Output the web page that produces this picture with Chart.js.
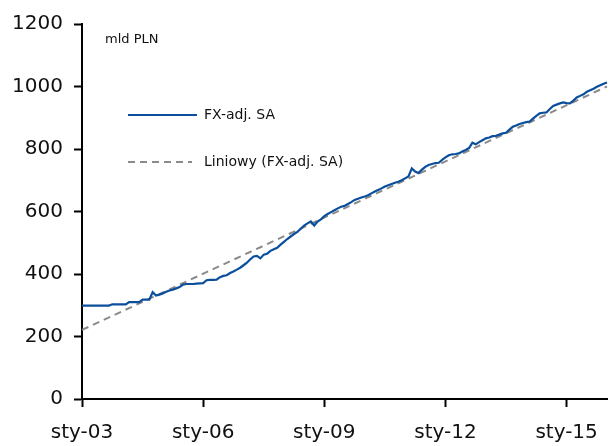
<!DOCTYPE html>
<html>
<head>
<meta charset="utf-8">
<script src="https://cdn.jsdelivr.net/npm/chart.js@4"></script>
<style>
  html, body { margin: 0; padding: 0; background: #fff; }
  #wrap { width: 610px; height: 446px; }
</style>
</head>
<body>
<div id="wrap"><canvas id="myChart" width="610" height="446"></canvas></div>
<script>
// miesiące od sty-03 do sty-16
var months = ['sty', 'lut', 'mar', 'kwi', 'maj', 'cze', 'lip', 'sie', 'wrz', 'paź', 'lis', 'gru'];
var years = ['03', '04', '05', '06', '07', '08', '09', '10', '11', '12', '13', '14', '15', '16'];
var tickLabels = ['sty-03', 'sty-06', 'sty-09', 'sty-12', 'sty-15'];

var labels = [];
years.forEach(function (y) {
    months.forEach(function (m) { labels.push(m + '-' + y); });
});
labels = labels.slice(0, 157); // do sty-16

// FX-adj. SA, mld PLN
var fxAdjSA = [
    299, 299, 299, 299, 299, 299, 299, 299, 299, 303, 303, 303,   // 2003
    303, 303, 310, 310, 310, 310, 318, 318, 318, 342, 331, 334,   // 2004
    338, 343, 347, 350, 354, 358, 366, 368, 368, 368, 369, 370,   // 2005
    371, 380, 381, 381, 382, 390, 394, 396, 403, 408, 414, 420,   // 2006
    428, 436, 447, 456, 458, 450, 462, 465, 474, 479, 484, 494,   // 2007
    503, 512, 520, 528, 535, 545, 555, 562, 568, 555, 568, 575,   // 2008
    585, 592, 598, 604, 610, 615, 618, 624, 630, 637, 641, 645,   // 2009
    648, 652, 658, 664, 669, 674, 680, 684, 688, 692, 695, 700,   // 2010
    706, 712, 738, 728, 723, 734, 743, 749, 752, 755, 756, 765,   // 2011
    773, 780, 783, 784, 786, 792, 797, 803, 820, 815, 822, 828,   // 2012
    834, 837, 841, 842, 846, 850, 852, 862, 871, 875, 880, 883,   // 2013
    886, 888, 897, 906, 914, 916, 917, 928, 938, 942, 946, 949,   // 2014
    947, 946, 955, 965, 970, 975, 983, 988, 993, 999, 1004, 1009, // 2015
    1013                                                          // 2016
];

// trend liniowy: tylko końce
var trendStart = 221;
var trendEnd = 1000;
var trend = labels.map(function (l, i) {
    if (i === 0) return trendStart;
    if (i === labels.length - 1) return trendEnd;
    return null;
});

var yTicks = [0, 200, 400, 600, 800, 1000, 1200];

var font = "'DejaVu Sans', sans-serif";
var blue = '#0b4f9c';
var grey = '#8a8a8a';
var textColor = '#111';

// legenda i jednostka narysowane wewnątrz wykresu
var insideLegend = {
    id: 'insideLegend',
    afterDraw: function (chart) {
        var c = chart.ctx;
        c.save();
        c.fillStyle = textColor;
        c.font = '13px ' + font;
        c.textBaseline = 'middle';
        c.fillText('mld PLN', 105, 40);

        c.lineWidth = 2;
        c.strokeStyle = blue;
        c.beginPath();
        c.moveTo(128, 115);
        c.lineTo(197, 115);
        c.stroke();

        c.strokeStyle = grey;
        c.setLineDash([7, 5]);
        c.beginPath();
        c.moveTo(128, 162);
        c.lineTo(192, 162);
        c.stroke();
        c.setLineDash([]);

        c.font = '14px ' + font;
        c.fillText('FX-adj. SA', 204, 115);
        c.fillText('Liniowy (FX-adj. SA)', 204, 162);
        c.restore();
    }
};

var ctx = document.getElementById('myChart').getContext('2d');

var myChart = new Chart(ctx, {
    type: 'line',
    data: {
        labels: labels,
        datasets: [{
            label: 'FX-adj. SA',
            data: fxAdjSA,
            borderColor: blue,
            borderWidth: 2.2,
            pointRadius: 0,
            tension: 0,
            order: 1
        }, {
            label: 'Liniowy (FX-adj. SA)',
            data: trend,
            borderColor: grey,
            borderWidth: 2,
            borderDash: [7, 5],
            pointRadius: 0,
            spanGaps: true,
            order: 2
        }]
    },
    options: {
        responsive: false,
        animation: false,
        layout: { padding: { top: 24, right: 0, left: 0, bottom: 0 } },
        plugins: {
            legend: { display: false },
            tooltip: { enabled: false }
        },
        scales: {
            x: {
                type: 'category',
                offset: false,
                afterBuildTicks: function (axis) {
                    axis.ticks = axis.ticks.filter(function (t) {
                        return tickLabels.indexOf(labels[t.value]) !== -1;
                    });
                },
                afterFit: function (axis) {
                    axis.height = 47;
                    axis.paddingRight = 3;
                },
                ticks: {
                    autoSkip: false,
                    maxRotation: 0,
                    padding: 14,
                    color: textColor,
                    font: { family: font, size: 20 },
                    callback: function (v) { return labels[v]; }
                },
                grid: {
                    drawOnChartArea: false,
                    drawTicks: true,
                    tickLength: 8,
                    tickWidth: 2,
                    tickColor: '#000'
                },
                border: { display: true, color: '#000', width: 2 }
            },
            y: {
                min: 0,
                max: 1200,
                afterBuildTicks: function (axis) {
                    axis.ticks = yTicks.map(function (v) { return { value: v }; });
                },
                afterFit: function (axis) { axis.width = 82; },
                ticks: {
                    padding: 11,
                    color: textColor,
                    font: { family: font, size: 20 },
                    callback: function (v) { return String(v); }
                },
                grid: {
                    drawOnChartArea: false,
                    drawTicks: true,
                    tickLength: 8,
                    tickWidth: 2,
                    tickColor: '#000'
                },
                border: { display: true, color: '#000', width: 2 }
            }
        }
    },
    plugins: [insideLegend]
});
</script>
</body>
</html>
